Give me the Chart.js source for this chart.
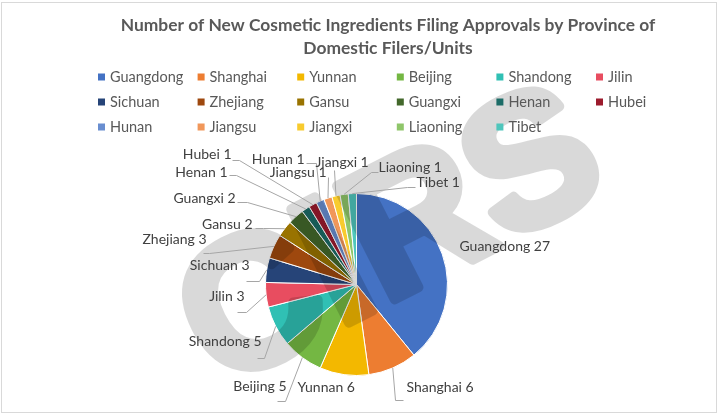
<!DOCTYPE html>
<html>
<head>
<meta charset="utf-8">
<script src="https://cdn.jsdelivr.net/npm/chart.js@4.4.1/dist/chart.umd.min.js"></script>
<style>
  html, body { margin: 0; padding: 0; background: #fff; }
  canvas { display: block; }
</style>
</head>
<body>
<canvas id="pie" width="718" height="416"></canvas>
<script>
const chartTitle = ['Number of New Cosmetic Ingredients Filing Approvals by Province of', 'Domestic Filers/Units'];
const provinces = ['Guangdong', 'Shanghai', 'Yunnan', 'Beijing', 'Shandong', 'Jilin', 'Sichuan', 'Zhejiang', 'Gansu',
  'Guangxi', 'Henan', 'Hubei', 'Hunan', 'Jiangsu', 'Jiangxi', 'Liaoning', 'Tibet'];
const filings = [27, 6, 6, 5, 5, 3, 3, 3, 2, 2, 1, 1, 1, 1, 1, 1, 1];
const sliceColors = ['#4472C4', '#ED7D31', '#F3B800', '#74B743', '#30C0B4', '#E84D60', '#264478', '#9E480E', '#997300',
  '#43682B', '#1C6C67', '#9C1B2D', '#698ED0', '#F1975A', '#F8CB2E', '#8FC66A', '#4FC6BC'];

// where each data label sits, measured from the pie centre (Excel-style manual layout)
// px/py = elbow of the leader line, tail = short horizontal bit under the label
const labelSpots = [
  { tx: 103, ty: -38, align: 'left' },
  { tx: 50, ty: 103, align: 'left', px: 39, py: 116, tail: 8 },
  { tx: -59, ty: 103, align: 'left' },
  { tx: -70, ty: 102, align: 'right', px: -71, py: 117, tail: -8 },
  { tx: -95, ty: 57, align: 'right', px: -92, py: 74, tail: -7 },
  { tx: -112, ty: 12, align: 'right', px: -110, py: 28, tail: -9 },
  { tx: -107, ty: -19, align: 'right', px: -97, py: -3, tail: -13 },
  { tx: -150, ty: -45, align: 'right', px: -147, py: -31, tail: -6 },
  { tx: -104, ty: -60, align: 'right', px: -93, py: -56, tail: -8 },
  { tx: -121, ty: -86, align: 'right', px: -109, py: -82, tail: -10 },
  { tx: -129, ty: -112, align: 'right', px: -120, py: -109, tail: -7 },
  { tx: -125, ty: -130, align: 'right', px: -117, py: -124, tail: -7 },
  { tx: -52, ty: -125, align: 'right', px: -40, py: -121, tail: -10 },
  { tx: -30, ty: -112, align: 'right', px: -28, py: -107, tail: 0 },
  { tx: -41, ty: -122, align: 'left', px: -22, py: -114, tail: 0 },
  { tx: 22, ty: -117, align: 'left', px: 15, py: -112, tail: 7 },
  { tx: 60, ty: -102, align: 'left', px: 51, py: -97, tail: 8 }
];

const excelLook = {
  id: 'excelLook',
  afterDatasetsDraw(chart) {
    // grey CIRS watermark lying over the pie, drawn solid off-screen then blended in
    const ctx = chart.ctx;
    const off = document.createElement('canvas');
    off.width = chart.width;
    off.height = chart.height;
    const o = off.getContext('2d');
    o.translate(219, 389);
    o.rotate(-27 * Math.PI / 180);
    o.font = 'bold 185px "Liberation Sans"';
    o.fillStyle = '#000';
    o.strokeStyle = '#000';
    o.lineWidth = 10;
    o.lineJoin = 'round';
    o.fillText('CIRS', 0, 0);
    o.strokeText('CIRS', 0, 0);
    ctx.save();
    ctx.globalAlpha = 0.15;
    ctx.drawImage(off, 0, 0);
    ctx.restore();
  },
  afterDraw(chart) {
    const ctx = chart.ctx;
    ctx.save();

    // title
    ctx.fillStyle = '#595959';
    ctx.font = 'bold 17.4px Lato';
    ctx.textAlign = 'center';
    ctx.textBaseline = 'middle';
    ctx.fillText(chartTitle[0], 388, 25);
    ctx.fillText(chartTitle[1], 388, 48);

    // legend, 6 columns
    ctx.font = '14.5px Lato';
    ctx.textAlign = 'left';
    provinces.forEach((name, i) => {
      const x = 98 + (i % 6) * 99.6;
      const y = 77 + Math.floor(i / 6) * 25;
      ctx.fillStyle = sliceColors[i];
      ctx.fillRect(x, y - 3.5, 7, 7);
      ctx.fillStyle = '#595959';
      ctx.fillText(name, x + 12, y);
    });

    // data labels with leader lines
    const arcs = chart.getDatasetMeta(0).data;
    ctx.strokeStyle = '#A6A6A6';
    ctx.lineWidth = 1;
    ctx.font = '14px Lato';
    arcs.forEach((arc, i) => {
      const s = labelSpots[i];
      const cx = arc.x, cy = arc.y;
      if (s.px !== undefined) {
        const mid = (arc.startAngle + arc.endAngle) / 2;
        const ex = cx + Math.cos(mid) * arc.outerRadius;
        const ey = cy + Math.sin(mid) * arc.outerRadius;
        ctx.beginPath();
        ctx.moveTo(ex, ey);
        ctx.lineTo(cx + s.px, cy + s.py);
        ctx.lineTo(cx + s.px + s.tail, cy + s.py);
        ctx.stroke();
      }
      ctx.fillStyle = '#404040';
      ctx.textAlign = s.align;
      ctx.textBaseline = 'middle';
      ctx.fillText(provinces[i] + ' ' + filings[i], cx + s.tx, cy + s.ty);
    });

    // chart border
    ctx.strokeStyle = '#D9D9D9';
    ctx.strokeRect(1.5, 2.5, 715, 410);
    ctx.restore();
  }
};

function draw() {
  new Chart(document.getElementById('pie'), {
    type: 'pie',
    data: {
      labels: provinces,
      datasets: [{
        data: filings,
        backgroundColor: sliceColors,
        borderColor: '#FFFFFF',
        borderWidth: 1
      }]
    },
    options: {
      responsive: false,
      devicePixelRatio: 1,
      animation: false,
      layout: { padding: { left: 265, right: 270, top: 193, bottom: 40 } },
      plugins: {
        legend: { display: false },
        title: { display: false },
        tooltip: { enabled: false }
      }
    },
    plugins: [excelLook]
  });
}

Promise.all([
  document.fonts.load('14px Lato'),
  document.fonts.load('bold 16px Lato'),
  document.fonts.load('bold 185px "Liberation Sans"')
]).then(draw, draw);
</script>
</body>
</html>
